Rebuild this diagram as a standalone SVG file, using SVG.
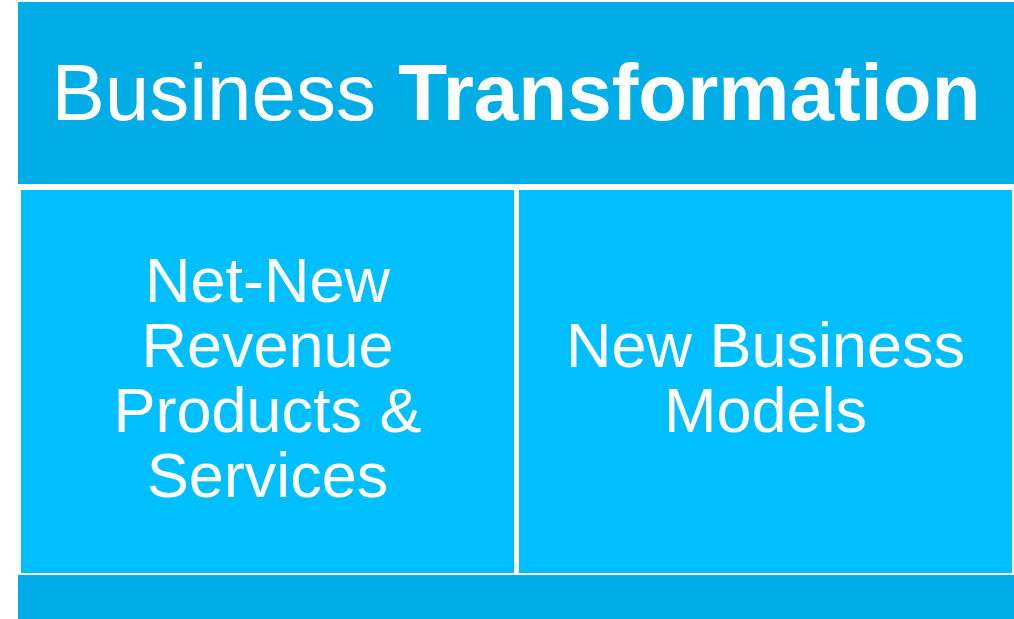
<svg xmlns="http://www.w3.org/2000/svg" width="1014" height="619" viewBox="0 0 1014 619">
<style>
.band{fill:#00ADE6}
.box{fill:#00BFFF}
text{fill:#FFFFFF;font-family:"Liberation Sans",Arial,sans-serif;text-anchor:middle}
.t{font-size:80px}
.b{font-size:63px}
</style>
<rect width="1014" height="619" fill="#FFFFFF"/>
<g id="header">
<rect class="band" x="18" y="2" width="996" height="182"/>
<text class="t" x="516" y="120">Business <tspan font-weight="bold">Transformation</tspan></text>
</g>
<g id="left">
<rect class="box" x="21" y="190" width="493" height="383"/>
<text class="b" x="267.5" y="302">Net-New</text>
<text class="b" x="267.5" y="367">Revenue</text>
<text class="b" x="267.5" y="432">Products &amp;</text>
<text class="b" x="267.5" y="497">Services</text>
</g>
<g id="right">
<rect class="box" x="519" y="190" width="493" height="383"/>
<text class="b" x="765.5" y="367">New Business</text>
<text class="b" x="765.5" y="432">Models</text>
</g>
<g id="footer">
<rect class="band" x="18" y="575" width="996" height="44"/>
</g>
<g id="connectors"/>
</svg>
